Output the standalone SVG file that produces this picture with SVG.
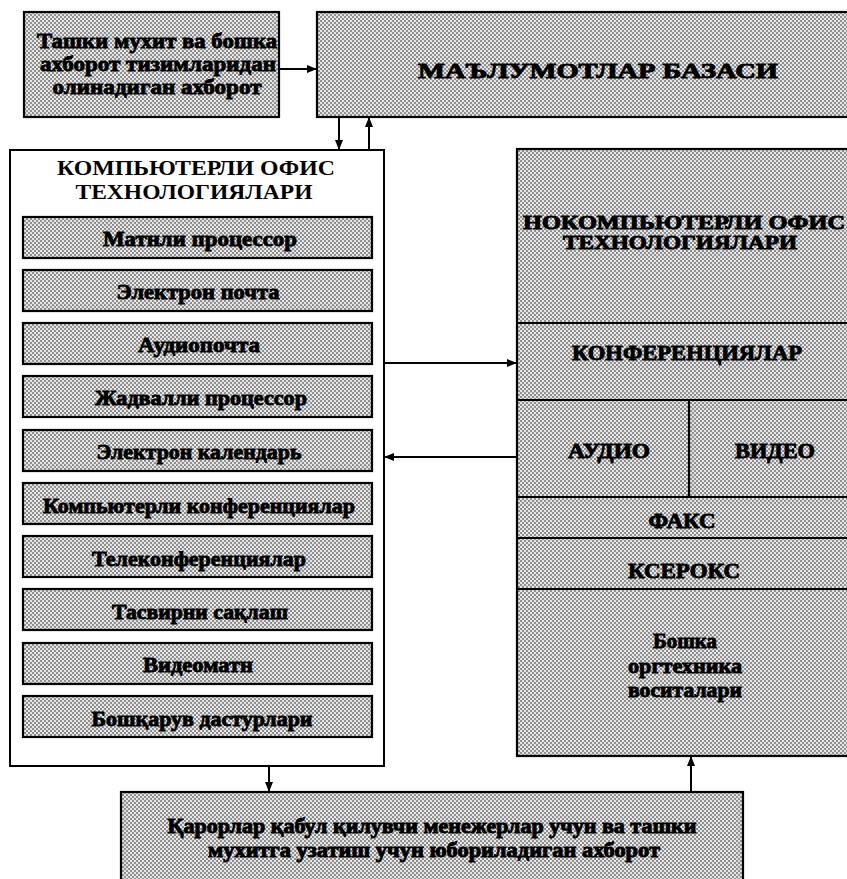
<svg xmlns="http://www.w3.org/2000/svg" width="847" height="879" viewBox="0 0 847 879">
  <defs>
    <!-- halftone screen used for the grey fills -->
    <pattern id="dither" patternUnits="userSpaceOnUse" width="4" height="4">
      <rect width="4" height="4" fill="#e4e4e4"/>
      <rect x="0" y="0" width="2" height="2" fill="#909090"/>
      <rect x="2" y="2" width="2" height="2" fill="#909090"/>
    </pattern>
    <marker id="head" markerUnits="userSpaceOnUse" markerWidth="10" markerHeight="8" refX="9" refY="4" orient="auto">
      <path d="M0,0 L10,4 L0,8 Z" fill="#000"/>
    </marker>
  </defs>
  <style>
    .box { fill: url(#dither); stroke: #000; stroke-width: 2.2; }
    .plain { fill: #fff; stroke: #000; stroke-width: 2; }
    .rule { stroke: #000; stroke-width: 2.2; fill: none; }
    .t { font-family: "Liberation Serif", "Times New Roman", serif; font-weight: bold; font-size: 22px; fill: #000; text-anchor: middle; }
    .heavy { stroke: #000; stroke-width: 0.9; }
    .title { font-size: 22px; }
    .cap { font-size: 21px; }
    .small { font-size: 20px; }
    .conn line { stroke: #000; stroke-width: 2; marker-end: url(#head); }
  </style>

  <rect width="847" height="879" fill="#fff"/>

  <!-- external information source -->
  <g id="external-info">
    <rect class="box" x="24" y="12" width="255" height="105"/>
    <text class="t heavy" x="157" y="48" textLength="240" lengthAdjust="spacingAndGlyphs">Ташки мухит ва бошка</text>
    <text class="t heavy" x="158" y="71" textLength="236" lengthAdjust="spacingAndGlyphs">ахборот тизимларидан</text>
    <text class="t heavy" x="157" y="94" textLength="209" lengthAdjust="spacingAndGlyphs">олинадиган ахборот</text>
  </g>

  <!-- database -->
  <g id="database">
    <rect class="box" x="317" y="12" width="534" height="105"/>
    <text class="t cap heavy" x="598" y="78" textLength="360" lengthAdjust="spacingAndGlyphs">МАЪЛУМОТЛАР БАЗАСИ</text>
  </g>

  <!-- computer office technologies -->
  <g id="computer-office">
    <rect class="plain" x="10" y="150" width="374" height="616"/>
    <text class="t title" x="196" y="175" textLength="278" lengthAdjust="spacingAndGlyphs">КОМПЬЮТЕРЛИ ОФИС</text>
    <text class="t title" x="194" y="199" textLength="237" lengthAdjust="spacingAndGlyphs">ТЕХНОЛОГИЯЛАРИ</text>

    <g id="word-processor">
      <rect class="box" x="23" y="217" width="349" height="41"/>
      <text class="t heavy" x="200" y="246" textLength="194" lengthAdjust="spacingAndGlyphs">Матнли процессор</text>
    </g>
    <g id="email">
      <rect class="box" x="23" y="270" width="349" height="41"/>
      <text class="t heavy" x="198" y="299" textLength="163" lengthAdjust="spacingAndGlyphs">Электрон почта</text>
    </g>
    <g id="voicemail">
      <rect class="box" x="23" y="323" width="349" height="41"/>
      <text class="t heavy" x="199" y="352" textLength="122" lengthAdjust="spacingAndGlyphs">Аудиопочта</text>
    </g>
    <g id="spreadsheet">
      <rect class="box" x="23" y="376" width="349" height="41"/>
      <text class="t heavy" x="201" y="405" textLength="212" lengthAdjust="spacingAndGlyphs">Жадвалли процессор</text>
    </g>
    <g id="calendar">
      <rect class="box" x="23" y="430" width="349" height="41"/>
      <text class="t heavy" x="199" y="459" textLength="205" lengthAdjust="spacingAndGlyphs">Электрон календарь</text>
    </g>
    <g id="computer-conferencing">
      <rect class="box" x="23" y="483" width="349" height="41"/>
      <text class="t heavy" x="199" y="513" textLength="312" lengthAdjust="spacingAndGlyphs">Компьютерли конференциялар</text>
    </g>
    <g id="teleconferencing">
      <rect class="box" x="23" y="536" width="349" height="41"/>
      <text class="t heavy" x="199" y="566" textLength="214" lengthAdjust="spacingAndGlyphs">Телеконференциялар</text>
    </g>
    <g id="image-storage">
      <rect class="box" x="23" y="589" width="349" height="41"/>
      <text class="t heavy" x="200" y="619" textLength="176" lengthAdjust="spacingAndGlyphs">Тасвирни сақлаш</text>
    </g>
    <g id="videotext">
      <rect class="box" x="23" y="643" width="349" height="41"/>
      <text class="t heavy" x="198" y="672" textLength="110" lengthAdjust="spacingAndGlyphs">Видеоматн</text>
    </g>
    <g id="management-software">
      <rect class="box" x="23" y="696" width="349" height="41"/>
      <text class="t heavy" x="202" y="726" textLength="221" lengthAdjust="spacingAndGlyphs">Бошқарув дастурлари</text>
    </g>
  </g>

  <!-- non-computer office technologies -->
  <g id="noncomputer-office">
    <rect class="box" x="517" y="149" width="334" height="607"/>
    <line class="rule" x1="517" y1="323" x2="851" y2="323"/>
    <line class="rule" x1="517" y1="400" x2="851" y2="400"/>
    <line class="rule" x1="689" y1="400" x2="689" y2="497"/>
    <line class="rule" x1="517" y1="497" x2="851" y2="497"/>
    <line class="rule" x1="517" y1="538" x2="851" y2="538"/>
    <line class="rule" x1="517" y1="589" x2="851" y2="589"/>
    <text class="t heavy" x="684" y="229" style="font-size:19px" textLength="322" lengthAdjust="spacingAndGlyphs">НОКОМПЬЮТЕРЛИ ОФИС</text>
    <text class="t heavy" x="680" y="249" style="font-size:19px" textLength="234" lengthAdjust="spacingAndGlyphs">ТЕХНОЛОГИЯЛАРИ</text>
    <text class="t cap heavy" x="687" y="360" textLength="230" lengthAdjust="spacingAndGlyphs">КОНФЕРЕНЦИЯЛАР</text>
    <text class="t cap heavy" x="609" y="458" textLength="82" lengthAdjust="spacingAndGlyphs">АУДИО</text>
    <text class="t cap heavy" x="775" y="458" textLength="80" lengthAdjust="spacingAndGlyphs">ВИДЕО</text>
    <text class="t cap heavy" x="682" y="528" textLength="67" lengthAdjust="spacingAndGlyphs">ФАКС</text>
    <text class="t cap heavy" x="684" y="578" textLength="112" lengthAdjust="spacingAndGlyphs">КСЕРОКС</text>
    <text class="t heavy" x="685" y="648" textLength="64" lengthAdjust="spacingAndGlyphs">Бошка</text>
    <text class="t heavy" x="685" y="673" textLength="114" lengthAdjust="spacingAndGlyphs">оргтехника</text>
    <text class="t heavy" x="685" y="697" textLength="114" lengthAdjust="spacingAndGlyphs">воситалари</text>
  </g>

  <!-- outgoing information -->
  <g id="outgoing-info">
    <rect class="box" x="121" y="792" width="622" height="100"/>
    <text class="t small heavy" x="432" y="833" textLength="529" lengthAdjust="spacingAndGlyphs">Қарорлар қабул қилувчи менежерлар учун ва ташки</text>
    <text class="t small heavy" x="434" y="857" textLength="452" lengthAdjust="spacingAndGlyphs">мухитга узатиш учун юбориладиган ахборот</text>
  </g>

  <!-- connectors -->
  <g id="connectors" class="conn">
    <line x1="280" y1="69" x2="316" y2="69"/>
    <line x1="339" y1="118" x2="339" y2="149"/>
    <line x1="369" y1="149" x2="369" y2="118"/>
    <line x1="385" y1="363" x2="516" y2="363"/>
    <line x1="516" y1="457" x2="385" y2="457"/>
    <line x1="269" y1="767" x2="269" y2="791"/>
    <line x1="691" y1="791" x2="691" y2="757"/>
  </g>
</svg>
